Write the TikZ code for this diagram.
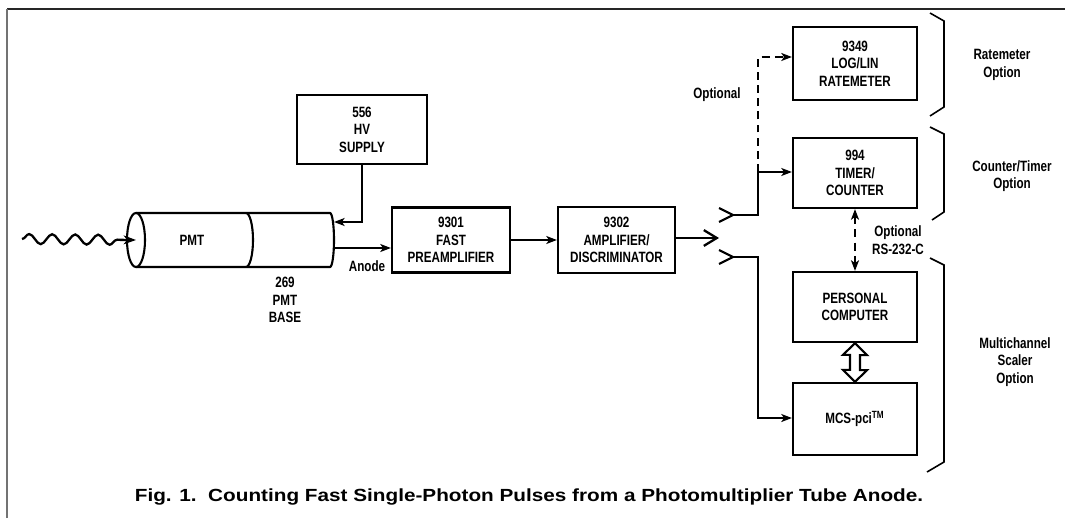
\documentclass[tikz,border=0pt]{standalone}
\usepackage{fontspec}
\setmainfont{Liberation Sans}
\newfontfamily\narrowfont[FakeStretch=0.78]{Liberation Sans}
\newfontfamily\capfont[FakeStretch=1.18]{Liberation Sans}
\usetikzlibrary{shapes,arrows.meta,positioning,calc,decorations.pathmorphing}

\tikzset{
  unit/.style={draw, rectangle, line width=1.25pt, align=center, inner sep=0pt},
  txt/.style={align=center, inner sep=0pt},
  link/.style={line width=1.2pt, -{Stealth[length=6pt,width=4.5pt,inset=1.5pt]}},
  optlink/.style={link, dash pattern=on 4.5pt off 3pt},
  plain/.style={line width=1.2pt},
  brace/.style={line width=0.9pt, line join=miter},
}

\begin{document}
\begin{tikzpicture}[x=0.02cm, y=0.02cm,
  font=\fontsize{8.5}{10}\selectfont\narrowfont\bfseries]
\useasboundingbox (0,0) rectangle (1065,518);
% frame
\draw[line width=1pt, black!85] (7,509) -- (1065,509);
\draw[line width=1.3pt, black!55] (7,0) -- (7,509);

% boxes
\node[unit, minimum width=130*0.02cm, minimum height=69*0.02cm] (hv) at (362,388.5) {556\\HV\\SUPPLY};
\node[unit, minimum width=118*0.02cm, minimum height=65*0.02cm] (pre) at (451,278) {9301\\FAST\\PREAMPLIFIER};
\node[unit, minimum width=117*0.02cm, minimum height=66*0.02cm] (disc) at (616.5,278) {9302\\AMPLIFIER/\\DISCRIMINATOR};
\node[unit, minimum width=124*0.02cm, minimum height=73*0.02cm] (rate) at (855,454.5) {9349\\LOG/LIN\\RATEMETER};
\node[unit, minimum width=124*0.02cm, minimum height=70*0.02cm] (timer) at (855,345) {994\\TIMER/\\COUNTER};
\node[unit, minimum width=124*0.02cm, minimum height=70*0.02cm] (pc) at (855,211) {PERSONAL\\COMPUTER};
\node[unit, minimum width=124*0.02cm, minimum height=72*0.02cm] (mcs) at (855,99) {MCS-pci\textsuperscript{TM}};

% photomultiplier tube
\coordinate (pmtc) at (136,278);
\draw[plain] (136,305) -- (330,305) arc[start angle=90, end angle=-90, x radius=4, y radius=27] -- (136,251);
\draw[plain, fill=white] (pmtc) ellipse[x radius=9, y radius=27];
\draw[plain] (246,305) arc[start angle=90, end angle=-90, x radius=7, y radius=27];
\node[txt] (pmt) at (192,278) {PMT};
\node[txt] (base) at (285,218) {269\\PMT\\BASE};
\coordinate (hvin) at (334,296);
\coordinate (anode) at (334,270);
\node[txt] (anodelbl) at (367,252) {Anode};

% incoming photon
\draw[line width=1.3pt, decorate, decoration={snake, segment length=0.46cm, amplitude=0.1cm, post length=0.25cm},
  -{Stealth[length=7pt,width=5pt,inset=2pt]}] (22,279) -- (pmtc);

% signal chain
\draw[link] (hv.south) |- (hvin);
\draw[link] (anode) -- (anode -| pre.west);
\draw[link] (pre) -- (disc);
\coordinate (split) at (719,280);
\draw[line width=1.3pt, -{Straight Barb[length=7.4pt,width=9pt]}] (disc.east |- split) -- (split);

% sockets
\coordinate (uptip) at (733,303);
\coordinate (lowtip) at (733,261);
\draw[plain, line join=miter] (uptip) ++(-14,7) -- (uptip) -- ++(-14,-7);
\draw[plain, line join=miter] (lowtip) ++(-14,7) -- (lowtip) -- ++(-14,-7);
\coordinate (forkup) at (758,346);
\coordinate (forklow) at (758,100);
\coordinate (opttop) at (758,461);
\draw[link] (uptip) -| (forkup) -- (forkup -| timer.west);
\draw[optlink] (forkup) -- (opttop) -- (opttop -| rate.west);
\draw[link] (lowtip) -| (forklow) -- (forklow -| mcs.west);
\node[txt] (optlbl) at (717,423) {Optional};

% computer links
\draw[optlink, {Stealth[length=6pt,width=4.5pt,inset=1.5pt]}-{Stealth[length=6pt,width=4.5pt,inset=1.5pt]}] (timer.south) -- (pc.north);
\node[txt] (rslbl) at (898,278) {Optional\\RS-232-C};
\draw[plain, line join=miter] (pc.south) -- ++(12,-12) -- ++(-7,0) -- ++(0,-15) -- ++(7,0) -- (mcs.north)
  -- ++(-12,12) -- ++(7,0) -- ++(0,15) -- ++(-7,0) -- cycle;

% option braces
\draw[brace] (930,505) -- (944,497) -- (944,411) -- (930,402);
\draw[brace] (930,391) -- (944,384) -- (944,306) -- (932,298);
\draw[brace] (930,260) -- (944,253) -- (944,56) -- (927,46);
\node[txt] (ratelbl) at (1002,453) {Ratemeter\\Option};
\node[txt] (timerlbl) at (1012,342) {Counter/Timer\\Option};
\node[txt] (mcslbl) at (1015,156) {Multichannel\\Scaler\\Option};

% caption
\node[txt, font=\fontsize{10}{12}\selectfont\capfont\bfseries] (caption) at (529,21)
  {Fig. 1.\ \ Counting Fast Single-Photon Pulses from a Photomultiplier Tube Anode.};
\end{tikzpicture}
\end{document}
